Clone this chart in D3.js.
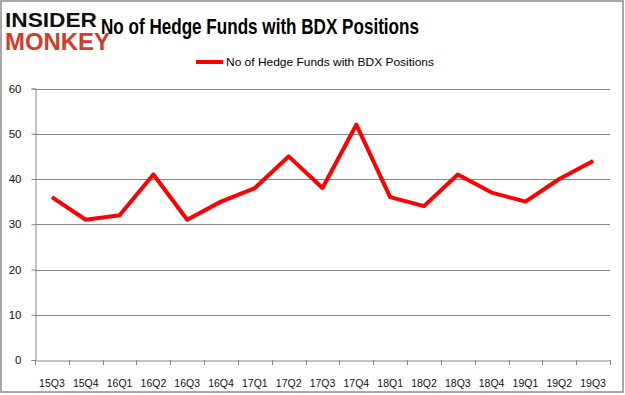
<!DOCTYPE html>
<html>
<head>
  <title>BDX Hedge Funds</title>
  <script src="https://cdnjs.cloudflare.com/ajax/libs/d3/7.8.5/d3.min.js"></script>
</head>
<body style="margin:0;background:#fff">
  <svg width="625" height="395" id="chart"></svg>

  <script>
// chart values
let quarters = ["15Q3","15Q4","16Q1","16Q2","16Q3","16Q4","17Q1","17Q2","17Q3","17Q4",
                "18Q1","18Q2","18Q3","18Q4","19Q1","19Q2","19Q3"];
let funds = [36, 31, 32, 41, 31, 35, 38, 45, 38, 52, 36, 34, 41, 37, 35, 40, 44];
let yTicks = [0, 10, 20, 30, 40, 50, 60];
let seriesName = "No of Hedge Funds with BDX Positions";

let svg = d3.select("#chart");
let font = "Liberation Sans, Arial, sans-serif";

// outer frame
svg.append("rect")
  .attr("x", 1).attr("y", 1).attr("width", 622).attr("height", 391)
  .attr("fill", "white").attr("stroke", "#8c8c8c").attr("stroke-width", 1.5);

// logo
svg.append("text").attr("x", 5).attr("y", 27)
  .attr("font-family", font).attr("font-weight", "bold").attr("font-size", 21)
  .attr("textLength", 92).attr("lengthAdjust", "spacingAndGlyphs")
  .attr("fill", "#111").text("INSIDER");
svg.append("text").attr("x", 5).attr("y", 50)
  .attr("font-family", font).attr("font-weight", "bold").attr("font-size", 23)
  .attr("textLength", 105).attr("lengthAdjust", "spacingAndGlyphs")
  .attr("fill", "#d43b2a").text("MONKEY");

// title
svg.append("text").attr("x", 101).attr("y", 34)
  .attr("font-family", font).attr("font-weight", "bold").attr("font-size", 22)
  .attr("textLength", 318).attr("lengthAdjust", "spacingAndGlyphs")
  .attr("fill", "#000").text(seriesName);

// legend
svg.append("line").attr("x1", 196).attr("x2", 223).attr("y1", 62).attr("y2", 62)
  .attr("stroke", "red").attr("stroke-width", 4);
svg.append("text").attr("x", 226).attr("y", 66)
  .attr("font-family", font).attr("font-size", 11.5)
  .attr("textLength", 208).attr("lengthAdjust", "spacingAndGlyphs")
  .attr("fill", "#000").text(seriesName);

// scales
let x = d3.scaleBand().domain(quarters).range([35, 610]);
let y = d3.scaleLinear().domain([0, 60]).range([360, 88.5]);

// gridlines
svg.append("g").selectAll("line").data(yTicks.filter(d => d > 0)).enter()
  .append("line")
  .attr("x1", 35).attr("x2", 610)
  .attr("y1", d => Math.round(y(d)) + 0.5).attr("y2", d => Math.round(y(d)) + 0.5)
  .attr("stroke", "#868686").attr("stroke-width", 1);

// y axis
let yAxis = svg.append("g").attr("transform", "translate(35.5,0)")
  .call(d3.axisLeft(y).tickValues(yTicks).tickSize(4).tickPadding(10));
yAxis.select(".domain").attr("stroke", "#868686");
yAxis.selectAll(".tick line").attr("stroke", "#868686");
yAxis.selectAll("text").attr("font-family", font).attr("font-size", 11.5).attr("fill", "#111");

// x axis
let xAxis = svg.append("g").attr("transform", "translate(0,360.5)")
  .call(d3.axisBottom(x).tickSize(0).tickPadding(19));
xAxis.select(".domain").attr("stroke", "#868686");
xAxis.selectAll("text").attr("font-family", font).attr("font-size", 10.5).attr("fill", "#111");
// tick marks on band boundaries
svg.append("g").selectAll("line").data(quarters.concat(["end"])).enter()
  .append("line")
  .attr("x1", (d, i) => Math.round(35 + i * x.step()) + 0.5)
  .attr("x2", (d, i) => Math.round(35 + i * x.step()) + 0.5)
  .attr("y1", 360).attr("y2", 365)
  .attr("stroke", "#868686");

// series line
let line = d3.line()
  .x((d, i) => x(quarters[i]) + x.bandwidth() / 2)
  .y(d => y(d));

svg.append("path").datum(funds)
  .attr("d", line)
  .attr("fill", "none")
  .attr("stroke", "red")
  .attr("stroke-width", 4)
  .attr("stroke-linejoin", "round");
  </script>
</body>
</html>
